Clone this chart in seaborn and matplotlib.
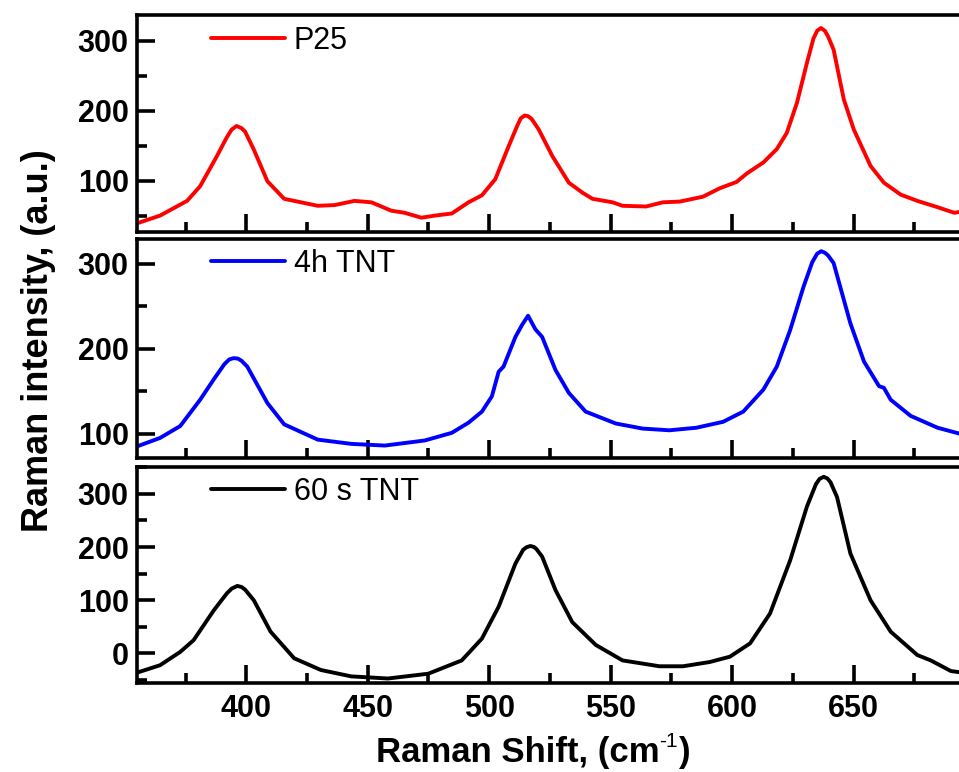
import matplotlib
matplotlib.use("Agg")
import matplotlib.pyplot as plt
import seaborn as sns
import pandas as pd
from matplotlib.ticker import MultipleLocator

# ---- data ----
p25_x = [355, 364.5, 375.6, 381, 387.9, 392, 394, 396, 398, 399.5, 403, 408.7, 415.6, 422.5, 429.4,
         436.3, 444.5, 451.5, 459.7, 465.2, 472.1, 477.6, 484.6, 491.5, 497, 502.5, 508, 511.5,
         513, 514.6, 516, 517.5, 520.4, 526, 532.8, 538.3, 542.5, 550.8, 554.9, 564.6, 571.5,
         578.4, 588, 594.9, 601.8, 606, 612.9, 618.4, 622.5, 626.7, 630.8, 633.5, 635, 636.6,
         638.2, 639.5, 641.8, 646, 650.1, 657, 662.5, 669.4, 676.3, 684.6, 691.5, 695]
p25_y = [39, 50, 71, 92, 135, 162, 173, 178, 175, 170, 145, 99, 74, 69, 64,
         65, 71, 69, 57, 54, 47, 50, 53, 69, 79, 102, 149, 178,
         189, 193, 192, 188, 173, 135, 97, 83, 74, 69, 64, 63, 69,
         70, 77, 89, 98, 110, 126, 145, 168, 211, 268, 303, 314, 318,
         314, 306, 287, 216, 173, 121, 97, 80, 71, 62, 54, 56]

tnt4h_x = [355, 364.5, 372.8, 381, 386.6, 391, 393, 394.8, 396.5, 398, 400.4, 408.7, 415.6, 429.4,
           443.2, 457, 473.5, 484.6, 491.5, 497, 501.1, 503.9, 505.9, 510.8, 513.5, 516, 519,
           521.8, 527.3, 532.8, 539.7, 552.1, 563.2, 574.2, 585.3, 596.3, 604.6, 612.9, 618.4,
           623.9, 629.4, 633, 635, 636.7, 638.3, 639.5, 641.8, 648.7, 654.3, 660.5, 662.5, 665.3,
           673.5, 684.6, 695]
tnt4h_y = [85, 95, 109, 140, 164, 182, 187.5, 189, 188.5, 186, 179, 136, 111, 93,
           88, 86, 92, 101, 113, 126, 144, 173, 179, 214, 228, 239, 223,
           214, 175, 148, 126, 112, 106, 104, 107, 114, 126, 152, 179,
           222, 273, 302, 312, 315, 313, 310, 301, 230, 185, 156, 154, 140,
           121, 107, 99]

tnt60_x = [355, 364.5, 372.8, 378.3, 386.6, 392, 394, 396.3, 398, 399.5, 403.1, 410, 419.7, 430.7,
           443.2, 458.3, 474.9, 488.7, 497, 503.9, 510.8, 514, 515.5, 517, 518.5, 519.5, 521.8,
           527.3, 534.2, 543.9, 554.9, 570.1, 579.8, 590.8, 599.1, 607.4, 615.6, 623.9, 630.8,
           634.5, 636, 637.7, 639.2, 640.5, 643.2, 648.7, 657, 665.3, 676.3, 681.8, 690.1, 695]
tnt60_y = [-36, -22, 3, 25, 81, 113, 122, 127, 125, 120, 100, 41, -9, -31,
           -43, -47, -38, -13, 28, 88, 169, 195, 200, 202, 200, 196, 182,
           119, 59, 16, -13, -24, -24, -16, -6, 19, 75, 175, 276,
           318, 328, 332, 329, 322, 294, 188, 100, 41, -3, -13, -33, -36]

labels = ["P25", "4h TNT", "60 s TNT"]
colors = ["#FF0000", "#0000FF", "#000000"]
ylims = [(27, 337), (71, 329), (-56, 351)]
x_ticks = [400, 450, 500, 550, 600, 650]

series = [(p25_x, p25_y), (tnt4h_x, tnt4h_y), (tnt60_x, tnt60_y)]

sns.set_theme(style="ticks")
plt.rcParams["font.family"] = ["Liberation Sans", "DejaVu Sans"]
plt.rcParams["text.color"] = "black"
plt.rcParams["xtick.color"] = "black"
plt.rcParams["ytick.color"] = "black"
plt.rcParams["xtick.labelcolor"] = "black"
plt.rcParams["ytick.labelcolor"] = "black"
plt.rcParams["axes.edgecolor"] = "black"

W, H = 959, 772
fig = plt.figure(figsize=(W / 100, H / 100), dpi=100)

boxes = [(14.7, 231.7), (239.3, 458.3), (466.7, 683.3)]
left_px = 137
legend_y = [0.88, 0.887, 0.885]

for i, ((top, bot), (xs, ys)) in enumerate(zip(boxes, series)):
    ax = fig.add_axes([left_px / W, 1 - bot / H, (W - left_px) / W + 0.004, (bot - top) / H])
    df = pd.DataFrame({"x": xs, "y": ys})
    sns.lineplot(data=df, x="x", y="y", ax=ax, color=colors[i], lw=2.8,
                 sort=False, estimator=None, label=labels[i])
    ax.set_xlim(355, 695)
    ax.set_ylim(*ylims[i])
    ax.xaxis.set_major_locator(MultipleLocator(50))
    ax.xaxis.set_minor_locator(MultipleLocator(25))
    ax.yaxis.set_major_locator(MultipleLocator(100))
    ax.yaxis.set_minor_locator(MultipleLocator(50))
    ax.tick_params(axis="both", which="major", direction="in", length=13, width=2.6,
                   labelsize=22, pad=6, top=False, right=False, colors="black")
    ax.tick_params(axis="both", which="minor", direction="in", length=7.5, width=2.6,
                   top=False, right=False, colors="black")
    ax.tick_params(axis="x", which="major", pad=8)
    for lab in ax.get_yticklabels() + ax.get_xticklabels():
        lab.set_fontweight("bold")
    for s in ax.spines.values():
        s.set_linewidth(2.6)
        s.set_color("black")
    ax.spines["right"].set_visible(False)
    ax.set_xlabel("")
    ax.set_ylabel("")
    if i < 2:
        ax.tick_params(axis="x", labelbottom=False)
    else:
        ax.set_xticks(x_ticks)
        ax.set_xticklabels([str(v) for v in x_ticks], fontweight="bold", fontsize=22)
    leg = ax.legend(loc="center left", bbox_to_anchor=(0.090, legend_y[i]), frameon=False,
                    fontsize=22, handlelength=2.4, handletextpad=0.3, borderpad=0,
                    borderaxespad=0)
    for ln in leg.get_lines():
        ln.set_linewidth(2.8)
    for t in leg.get_texts():
        t.set_color("black")

fig.text(38.5 / W, 1 - 341 / H, "Raman intensity, (a.u.)", rotation=90, ha="center",
         va="center", fontsize=26, fontweight="bold", color="black")

# x label with a small "-1" superscript
base_y = 1 - 762 / H
t1 = fig.text(0, base_y, "Raman Shift, (cm", ha="left", va="baseline",
              fontsize=25, fontweight="bold", color="black")
t2 = fig.text(0, base_y + 15 / H, "-1", ha="left", va="baseline",
              fontsize=15, fontweight="normal", color="black")
t3 = fig.text(0, base_y, ")", ha="left", va="baseline",
              fontsize=25, fontweight="bold", color="black")
renderer = fig.canvas.get_renderer()
w1 = t1.get_window_extent(renderer).width
w2 = t2.get_window_extent(renderer).width
w3 = t3.get_window_extent(renderer).width
total = w1 + w2 + w3 + 1
x0 = 533 - total / 2
t1.set_x(x0 / W)
t2.set_x((x0 + w1) / W)
t3.set_x((x0 + w1 + w2 + 1) / W)

fig.savefig("out.png", dpi=100)
